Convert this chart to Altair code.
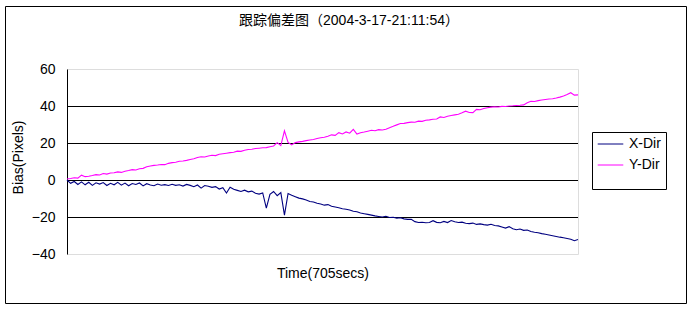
import altair as alt
import pandas as pd

# ---------------- data ----------------
series_names = ["X-Dir", "Y-Dir"]
series_colors = ["#000080", "#FF00FF"]
total_secs = 705

# samples every 5 s (0 .. 705 s)
x_dir = [
    0.0, -1.8, -0.8, -2.4, -1.0, -2.6, -1.2, -2.9, -1.5, -2.2,
    -1.4, -3.0, -1.8, -2.6, -1.3, -2.8, -1.7, -3.1, -1.9, -2.4,
    -1.6, -3.2, -2.0, -2.7, -3.1, -2.2, -2.8, -2.5, -3.0, -2.3,
    -2.9, -2.6, -3.3, -2.4, -2.9, -3.6, -2.7, -4.4, -3.0, -3.4,
    -4.0, -3.6, -4.9, -4.2, -7.0, -3.9, -5.0, -5.6, -6.2, -5.5,
    -6.4, -6.0, -7.2, -7.6, -7.0, -15.2, -7.8, -6.2, -8.5, -6.8,
    -19.0, -7.3, -8.2, -9.0, -9.8, -10.2, -10.8, -11.6, -11.9, -12.6,
    -13.0, -13.6, -13.3, -14.2, -14.6, -15.0, -15.5, -15.8, -16.2, -16.9,
    -17.2, -17.8, -18.2, -18.6, -19.0, -19.4, -19.7, -20.0, -19.6, -20.3,
    -20.1, -20.6, -20.4, -21.0, -21.3, -21.2, -22.5, -23.0, -22.8, -23.1,
    -23.0, -22.0, -22.9, -23.1, -22.4, -23.0, -21.9, -22.6, -23.0, -22.8,
    -23.4, -23.6, -23.3, -24.0, -23.7, -24.1, -24.4, -23.9, -24.6, -24.8,
    -25.4, -26.0, -25.2, -26.3, -26.9, -26.5, -27.2, -27.0, -27.8, -28.2,
    -28.5, -29.0, -29.3, -29.7, -30.1, -30.5, -30.9, -31.2, -31.6, -32.0,
    -32.8, -32.2,
]

y_dir = [
    0.5, 0.8, 1.2, 1.0, 2.6, 1.8, 2.0, 2.4, 2.9, 2.7,
    3.5, 3.2, 3.8, 3.9, 4.4, 4.1, 4.7, 5.1, 5.6, 5.4,
    6.1, 6.3, 7.2, 7.6, 7.9, 8.1, 8.4, 8.3, 9.0, 9.4,
    9.6, 10.1, 10.3, 10.6, 11.1, 11.5, 12.2, 12.6, 12.4, 13.0,
    13.4, 13.2, 13.9, 14.2, 14.5, 14.8, 15.0, 15.6, 15.5, 16.1,
    16.5, 16.6, 17.0, 17.2, 17.4, 17.5, 18.0, 18.4, 20.2, 18.6,
    26.6, 20.3, 19.0, 20.2, 20.6, 20.9, 21.3, 21.6, 21.9, 22.4,
    22.8, 23.1, 23.6, 24.4, 24.1, 25.6, 24.9, 26.0, 25.3, 27.4,
    24.8, 25.5, 25.9, 26.4, 26.9, 26.6, 27.2, 27.0, 27.4, 28.3,
    29.0, 29.8, 30.5, 30.6, 31.0, 31.3, 31.2, 31.8, 31.7, 32.3,
    32.5, 32.8, 33.0, 34.1, 33.8, 34.5, 34.9, 35.2, 35.5, 36.3,
    37.2, 36.5, 36.4, 38.2, 38.0, 38.6, 39.1, 39.4, 39.6, 39.5,
    39.8, 39.7, 40.0, 40.1, 40.3, 40.4, 40.6, 41.8, 42.6, 42.4,
    42.9, 43.2, 43.5, 43.8, 43.9, 44.3, 44.8, 45.4, 46.2, 47.2,
    45.9, 46.0,
]

y_ticks = [-40, -20, 0, 20, 40, 60]
grid_values = [-20, 0, 20, 40]

title_text = "跟踪偏差图（2004-3-17-21:11:54）"
y_title = "Bias(Pixels)"
x_title = "Time(705secs)"

# ---------------- tables ----------------
rows = []
for name, vals in zip(series_names, [x_dir, y_dir]):
    n = len(vals)
    for i, v in enumerate(vals):
        rows.append({"t": i * total_secs / (n - 1), "bias": v, "series": name})
df = pd.DataFrame(rows)
grid_df = pd.DataFrame({"bias": grid_values})
frame_df = pd.DataFrame({"k": [0]})
title_df = pd.DataFrame({"label": [title_text]})

FONT = "Liberation Sans"
W, H = 511, 185

y_scale = alt.Scale(domain=[-40, 60], nice=False, zero=False)
y_axis = alt.Axis(
    values=y_ticks, grid=False, ticks=False, domainColor="black", domainWidth=1,
    labelFont=FONT, labelFontSize=14, labelColor="black", labelPadding=12,
    title=y_title, titleFont=FONT, titleFontSize=14, titleFontWeight="normal",
    titleColor="black", titleAngle=270, titleX=-49, titleY=88,
    titleAlign="center", titleBaseline="middle",
)

frame = alt.Chart(frame_df).mark_rect(
    fill="transparent", stroke="black", strokeWidth=1
).encode(
    x=alt.value(-61.5), x2=alt.value(619.5), y=alt.value(-62.5), y2=alt.value(234.5)
)

title = alt.Chart(title_df).mark_text(
    font=FONT + ", Noto Sans CJK SC", fontSize=14, color="black",
    align="center", baseline="alphabetic",
).encode(
    x=alt.value(282), y=alt.value(-44), text="label:N"
)

grid = alt.Chart(grid_df).mark_rule(
    color="black", strokeWidth=1, yOffset=0.5
).encode(
    y=alt.Y("bias:Q", scale=y_scale, axis=y_axis)
)

lines = alt.Chart(df).mark_line(strokeWidth=1.1).encode(
    x=alt.X(
        "t:Q",
        scale=alt.Scale(domain=[0, total_secs], nice=False, zero=False),
        axis=alt.Axis(
            labels=False, ticks=False, domain=False, grid=False,
            title=x_title, titleFont=FONT, titleFontSize=14,
            titleFontWeight="normal", titleColor="black",
            titleY=23, titleBaseline="alphabetic",
        ),
    ),
    y=alt.Y("bias:Q", scale=y_scale, axis=y_axis),
    color=alt.Color(
        "series:N",
        scale=alt.Scale(domain=series_names, range=series_colors),
        legend=alt.Legend(
            title=" ", titleOrient="bottom", titleFontSize=10, titlePadding=2,
            orient="none", legendX=525, legendY=63, direction="vertical",
            strokeColor="black", fillColor="white", padding=5,
            symbolType="stroke", symbolSize=655, symbolStrokeWidth=1,
            labelFont=FONT, labelFontSize=14, labelColor="black",
            labelOffset=5, rowPadding=7, clipHeight=14,
        ),
    ),
    order=alt.Order("t:Q"),
)

chart = alt.layer(frame, title, grid, lines).properties(
    width=W,
    height=H,
    autosize=alt.AutoSizeParams(type="none"),
    padding={"left": 67, "top": 69, "right": 115, "bottom": 56},
).configure_view(stroke="#808080", strokeWidth=1).configure(background="white")

chart.save("out.html", embed_options={"renderer": "svg", "actions": False})
